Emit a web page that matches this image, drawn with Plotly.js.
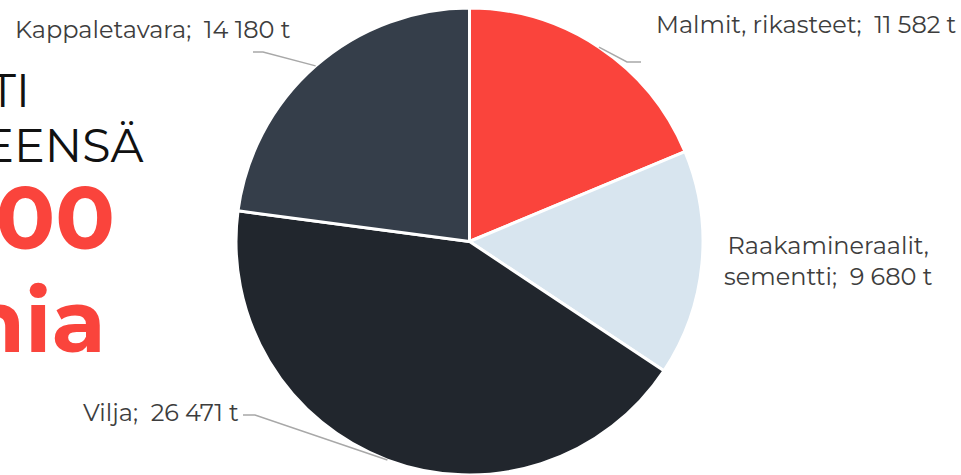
<!DOCTYPE html>
<html>
<head>
<meta charset="utf-8">
<script src="https://cdn.plot.ly/plotly-3.0.1.min.js"></script>
<style>html,body{margin:0;padding:0;background:#fff;}#chart{width:961px;height:475px;}</style>
</head>
<body>
<div id="chart"></div>
<script>
// ---- data ----
const categories = ["Malmit, rikasteet", "Raakamineraalit,<br>sementti", "Vilja", "Kappaletavara"];
const tonnes = [11582, 9680, 26471, 14180];
const sliceColors = ["#fa443c", "#d8e5ef", "#21262d", "#353e4a"];
const headingLines = ["VIENTI", "YHTEENSÄ"];
const totalLines = ["61 900", "tonnia"];
const unit = "t";

// ---- layout config (pixels) ----
const W = 961, H = 475;
const cx = 469.5, cy = 241.5, R = 233.5;
// label anchor [x, y, xanchor] and leader elbow [ex, ey, hx] (null = no leader)
const labelCfg = [
  {x: 654, y: 25, xa: "left", elbow: [627, 62, 641]},
  {x: 828, y: 261, xa: "center", elbow: null},
  {x: 241, y: 412, xa: "right", elbow: [255, 415, 243]},
  {x: 293, y: 30, xa: "right", elbow: [263, 52, 253]}
];
const headPos = [{x: 32, y: 90, size: 46, color: "#111111"},
                 {x: 146, y: 145, size: 46, color: "#111111"}];
const totPos = [{x: 117, y: 217, size: 88, color: "#fa443c"},
                {x: 108, y: 320, size: 88, color: "#fa443c"}];

const px = x => x / W;
const py = y => 1 - y / H;
function fmt(v) {
  return String(v).replace(/\B(?=(\d{3})+(?!\d))/g, "\u00a0");
}

const total = tonnes.reduce((a, b) => a + b, 0);
const font = "Montserrat, 'DejaVu Sans', 'Open Sans', sans-serif";

const annotations = [];
const shapes = [];
let cum = 0;
tonnes.forEach((v, i) => {
  const mid = (cum + v / 2) / total * 2 * Math.PI;
  cum += v;
  const c = labelCfg[i];
  annotations.push({
    xref: "paper", yref: "paper", x: px(c.x), y: py(c.y),
    xanchor: c.xa, yanchor: "middle", align: "center", showarrow: false,
    text: categories[i] + ";\u00a0 " + fmt(v) + " " + unit,
    font: {family: font, size: 24, color: "#3d3d3d"}
  });
  if (c.elbow) {
    const ex = cx + R * Math.sin(mid), ey = cy - R * Math.cos(mid);
    shapes.push({
      type: "path", xref: "paper", yref: "paper",
      path: `M${px(ex)},${py(ey)} L${px(c.elbow[0])},${py(c.elbow[1])} L${px(c.elbow[2])},${py(c.elbow[1])}`,
      line: {color: "#a8a8a8", width: 1.5}
    });
  }
});
headingLines.forEach((t, i) => {
  const p = headPos[i];
  annotations.push({xref: "paper", yref: "paper", x: px(p.x), y: py(p.y), xanchor: "right", yanchor: "middle",
    showarrow: false, text: t, font: {family: font, size: p.size, color: p.color}});
});
totalLines.forEach((t, i) => {
  const p = totPos[i];
  annotations.push({xref: "paper", yref: "paper", x: px(p.x), y: py(p.y), xanchor: "right", yanchor: "middle",
    showarrow: false, text: "<b>" + t + "</b>", font: {family: font, size: p.size, color: p.color}});
});

const trace = {
  type: "pie",
  labels: categories,
  values: tonnes,
  sort: false,
  direction: "clockwise",
  rotation: 0,
  textinfo: "none",
  hoverinfo: "label+value",
  marker: {colors: sliceColors, line: {color: "#ffffff", width: 3}},
  domain: {x: [(cx - 250) / W, (cx + 250) / W], y: [0, 1 - (cy - R) / H]}
};

Plotly.newPlot("chart", [trace], {
  width: W, height: H,
  margin: {l: 0, r: 0, t: 0, b: 0},
  paper_bgcolor: "#ffffff",
  showlegend: false,
  annotations: annotations,
  shapes: shapes
}, {displayModeBar: false, staticPlot: true});
</script>
</body>
</html>
